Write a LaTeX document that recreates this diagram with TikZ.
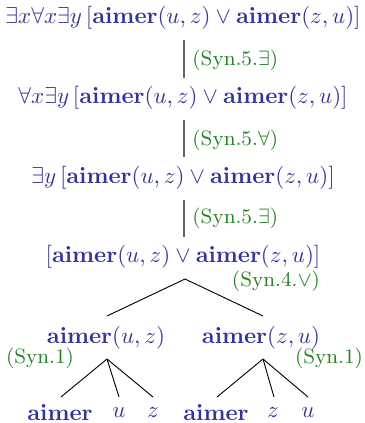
\documentclass[tikz,border=0pt]{standalone}
\usepackage{amsmath,amssymb}
\definecolor{fblue}{RGB}{51,51,153}
\definecolor{fgreen}{RGB}{34,130,34}
\begin{document}
\begin{tikzpicture}[x=0.435pt,y=-0.435pt,
  form/.style={text=fblue,inner sep=0pt},
  rule/.style={text=fgreen,font=\small,inner sep=0pt},
  vline/.style={draw=black!60,line width=0.8pt},
  tline/.style={draw=black,line width=0.4pt}]
\useasboundingbox (0,0) rectangle (365,423);
\node[form] (f1) at (183,18) {$\exists x\forall x\exists y\,[\mathbf{aimer}(u,z)\vee\mathbf{aimer}(z,u)]$};
\node[form] (f2) at (183,98) {$\forall x\exists y\,[\mathbf{aimer}(u,z)\vee\mathbf{aimer}(z,u)]$};
\node[form] (f3) at (183,178) {$\exists y\,[\mathbf{aimer}(u,z)\vee\mathbf{aimer}(z,u)]$};
\node[form] (f4) at (183,257) {$[\mathbf{aimer}(u,z)\vee\mathbf{aimer}(z,u)]$};
\node[form] (a1) at (106,338) {$\mathbf{aimer}(u,z)$};
\node[form] (a2) at (261,338) {$\mathbf{aimer}(z,u)$};
\node[form] (l1) at (60,413) {$\mathbf{aimer}$};
\node[form] (l2) at (119,413) {$u$};
\node[form] (l3) at (153,413) {$z$};
\node[form] (l4) at (216,413) {$\mathbf{aimer}$};
\node[form] (l5) at (273,413) {$z$};
\node[form] (l6) at (308,413) {$u$};
\draw[vline] (184,40) coordinate (v1a) -- (184,78) coordinate (v1b);
\draw[vline] (184,120) coordinate (v2a) -- (184,157) coordinate (v2b);
\draw[vline] (184,200) coordinate (v3a) -- (184,237) coordinate (v3b);
\node[rule,anchor=west] (r1) at (192,60) {(Syn.5.$\exists$)};
\node[rule,anchor=west] (r2) at (192,140) {(Syn.5.$\forall$)};
\node[rule,anchor=west] (r3) at (192,218) {(Syn.5.$\exists$)};
\node[rule] (r4) at (276,281) {(Syn.4.$\vee$)};
\node[rule] (r5) at (40,358) {(Syn.1)};
\node[rule] (r6) at (329,358) {(Syn.1)};
\coordinate (p0) at (185,279);
\coordinate (p1) at (107,359);
\coordinate (p2) at (263,359);
\draw[tline] (p0) -- (107,316);
\draw[tline] (p0) -- (263,316);
\draw[tline] (p1) -- (61,397);
\draw[tline] (p1) -- (119,397);
\draw[tline] (p1) -- (153,397);
\draw[tline] (p2) -- (217,397);
\draw[tline] (p2) -- (274,397);
\draw[tline] (p2) -- (308,397);
\end{tikzpicture}
\end{document}
